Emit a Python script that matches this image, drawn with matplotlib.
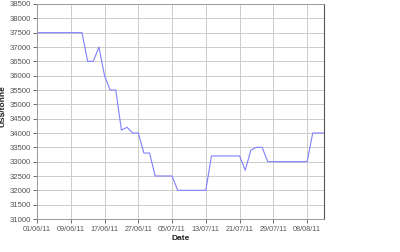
import matplotlib
matplotlib.use("Agg")
import matplotlib.pyplot as plt
import numpy as np

# one value per trading day, 01/06/11 .. 11/08/11
prices = [37500, 37500, 37500, 37500, 37500, 37500, 37500, 37500, 37500,
          36500, 36500, 37000, 36000, 35500, 35500, 34100, 34200, 34000,
          34000, 33300, 33300, 32500, 32500, 32500, 32500, 32000, 32000,
          32000, 32000, 32000, 32000, 33200, 33200, 33200, 33200, 33200,
          33200, 32700, 33400, 33500, 33500, 33000, 33000, 33000, 33000,
          33000, 33000, 33000, 33000, 34000, 34000, 34000]
tick_labels = ["01/06/11", "09/06/11", "17/06/11", "27/06/11", "05/07/11",
               "13/07/11", "21/07/11", "29/07/11", "08/08/11"]
y_ticks = list(range(31000, 38501, 500))

plt.rcParams['font.family'] = ['Liberation Sans', 'DejaVu Sans']

fig = plt.figure(figsize=(4, 2.52), dpi=100)
ax = fig.add_axes([37 / 400, 1 - 219 / 252, 287 / 400, 215 / 252])

x = np.arange(len(prices))
ax.plot(x, prices, color="#8080ff", linewidth=0.8)

ax.set_xlim(0, len(prices) - 1)
ax.set_ylim(31000, 38500)
ax.set_xticks(np.arange(0, len(prices), 6))
ax.set_xticklabels(tick_labels)
ax.set_yticks(y_ticks)
ax.tick_params(axis="x", labelsize=5.2, colors="#555555", length=3, width=0.6, pad=2)
ax.tick_params(axis="y", labelsize=5.6, colors="#555555", length=3, width=0.6, pad=1.5)
ax.grid(True, color="#cccccc", linewidth=0.7)

for side in ["left", "bottom", "top"]:
    ax.spines[side].set_color("#999999")
    ax.spines[side].set_linewidth(0.7)
ax.spines["right"].set_color("#555555")
ax.spines["right"].set_linewidth(0.8)

fig.text(180.5 / 400, 1 - 239 / 252, "Date", fontsize=6, fontweight="bold",
         color="#222222", ha="center", va="center")
fig.text(3 / 400, 1 - 106 / 252, "US$/tonne", fontsize=6, fontweight="bold",
         color="#222222", ha="center", va="center", rotation=90)

fig.savefig("out.png", dpi=100)
